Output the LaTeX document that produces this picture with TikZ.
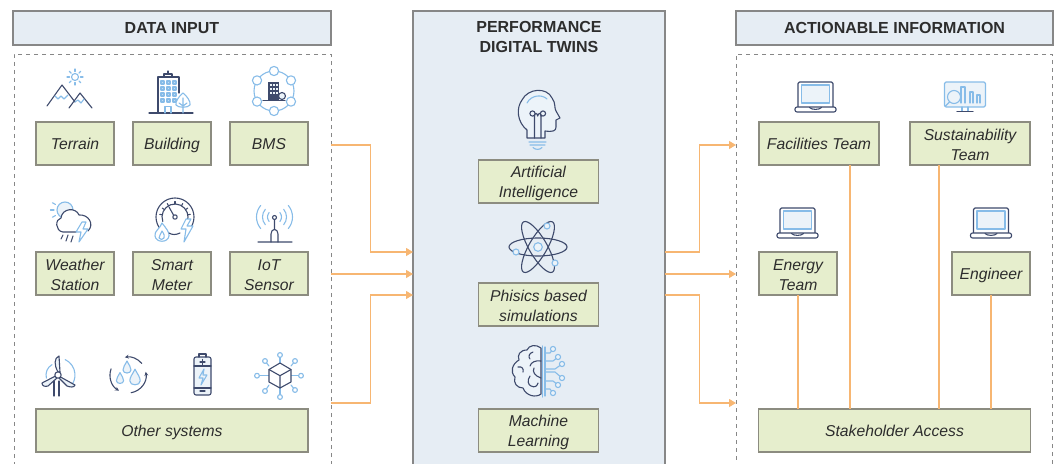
\documentclass[tikz,border=0pt]{standalone}
\usepackage{fontspec}
\setmainfont{Liberation Sans}
\usetikzlibrary{positioning,arrows.meta}
\definecolor{headfill}{RGB}{230,237,244}
\definecolor{boxfill}{RGB}{230,238,205}
\definecolor{boxline}{RGB}{140,140,128}
\definecolor{frameline}{RGB}{135,135,135}
\definecolor{flowline}{RGB}{247,182,114}
\definecolor{navy}{RGB}{62,74,108}
\definecolor{skyb}{RGB}{135,188,232}
\definecolor{skyf}{RGB}{236,243,249}
\definecolor{inktext}{RGB}{45,45,45}
\newcommand{\twolines}[2]{\rule{0pt}{16pt}#1\\#2\rule[-3pt]{0pt}{3pt}}

\tikzset{
  laptop/.pic={
    \draw[ico,rounded corners=1.5pt] (-17.5,0) -- (-17.5,-25) -- (17.5,-25) -- (17.5,0);
    \draw[icl,fill=skyf] (-14,-22) rectangle (14,-4);
    \draw[ico,fill=white,rounded corners=2pt] (-20.5,0) rectangle (20.5,5);
    \draw[ico] (-6,0.5) .. controls (-4,3) and (4,3) .. (6,0.5);
  },
  droplet/.pic={
    \draw[icl,fill=skyf] (0,-6) .. controls (2,-2) and (4,0) .. (4,3)
      .. controls (4,7) and (-4,7) .. (-4,3) .. controls (-4,0) and (-2,-2) .. cycle;
  }
}

\begin{document}
\begin{tikzpicture}[
x=1pt, y=-1pt,
every node/.style={align=center, text=inktext, inner sep=0pt, outer sep=0pt, font=\fontsize{16}{20}\selectfont},
header/.style={rectangle, draw=frameline, fill=headfill, line width=1.1pt, font=\fontsize{16}{20}\selectfont\bfseries},
frame/.style={rectangle, draw=frameline, line width=.9pt, dash pattern=on 4pt off 4pt},
panel/.style={rectangle, draw=frameline, fill=headfill, line width=1.1pt},
leaf/.style={rectangle, draw=boxline, fill=boxfill, line width=1.1pt, minimum height=43,
  font=\fontsize{15.7}{20}\selectfont\itshape},
oneline/.style={text height=15.5pt, text depth=3pt},
small/.style={leaf, minimum width=78},
wide/.style={leaf, minimum width=120},
long/.style={leaf, minimum width=272},
flow/.style={draw=flowline, line width=1.1pt, -{Triangle[length=7pt,width=8pt]}},
link/.style={draw=flowline, line width=1.1pt},
ico/.style={draw=navy, line width=1.1pt, line join=round, line cap=round},
icl/.style={draw=skyb, line width=1.1pt, line join=round, line cap=round}
]
  \useasboundingbox (0,0) rectangle (1057,463);
  \clip (0,0) rectangle (1057,463);

  \node[header, minimum width=318, minimum height=34] (inputhead) at (172,28) {DATA INPUT};
  \node[frame, minimum width=317, minimum height=430] (input) at (172.5,269) {};
  \node[panel, minimum width=252, minimum height=473] (twins) at (539,247.5) {};
  \node[font=\fontsize{16}{20.5}\selectfont\bfseries] (twinshead) at (539,37) {PERFORMANCE\\DIGITAL TWINS};
  \node[header, minimum width=317, minimum height=34] (outputhead) at (894.5,28) {ACTIONABLE INFORMATION};
  \node[frame, minimum width=316, minimum height=430] (output) at (894,269) {};

  \node[small, oneline] (terrain) at (75,143.5) {Terrain};
  \node[small, oneline] (building) at (172,143.5) {Building};
  \node[small, oneline] (bms) at (269,143.5) {BMS};
  \node[small] (weather) at (75,273.5) {\twolines{Weather}{Station}};
  \node[small] (meter) at (172,273.5) {\twolines{Smart}{Meter}};
  \node[small] (iot) at (269,273.5) {\twolines{IoT}{Sensor}};
  \node[long, oneline] (other) at (172,430.5) {Other systems};

  \node[wide] (ai) at (538.5,181.5) {\twolines{Artificial}{Intelligence}};
  \node[wide] (physics) at (538.5,304.5) {\twolines{Phisics based}{simulations}};
  \node[wide] (ml) at (538.5,430.5) {\twolines{Machine}{Learning}};

  \node[wide, oneline] (facilities) at (819,143.5) {Facilities Team};
  \node[wide] (sustain) at (970,143.5) {\twolines{Sustainability}{Team}};
  \node[small] (energy) at (798,273.5) {\twolines{Energy}{Team}};
  \node[small, oneline] (engineer) at (991,273.5) {Engineer};
  \node[long, oneline, minimum width=271.5] (stake) at (894.5,430.5) {Stakeholder Access};

  \coordinate (rowA) at (0,145);
  \coordinate (rowB) at (0,274);
  \coordinate (rowC) at (0,403);
  \coordinate (portA) at (0,252);
  \coordinate (portC) at (0,295);

  \draw[flow] (input.east |- rowA) -- ++(39.5,0) |- (twins.west |- portA);
  \draw[flow] (input.east |- rowB) -- (twins.west |- rowB);
  \draw[flow] (input.east |- rowC) -- ++(39.5,0) |- (twins.west |- portC);
  \draw[flow] (twins.east |- portA) -- ++(34.5,0) |- (output.west |- rowA);
  \draw[flow] (twins.east |- rowB) -- (output.west |- rowB);
  \draw[flow] (twins.east |- portC) -- ++(34.5,0) |- (output.west |- rowC);

  \draw[link] ([xshift=31pt]facilities.south) -- ([xshift=31pt]facilities.south |- stake.north);
  \draw[link] ([xshift=-31pt]sustain.south) -- ([xshift=-31pt]sustain.south |- stake.north);
  \draw[link] (energy.south) -- (energy.south |- stake.north);
  \draw[link] (engineer.south) -- (engineer.south |- stake.north);

  % terrain
  \draw[icl] (75,77) circle (3.5);
  \foreach \a in {0,45,...,315} \draw[icl] (75,77) ++(\a:5.5) -- ++(\a:2.5);
  \draw[ico] (47,106) -- (62,85) -- (75,102) (69,108) -- (80,93) -- (92,108);
  \draw[icl] (55,96) -- (58,99) -- (61,96) -- (64,99) -- (68,95) (75,102) -- (78,100) -- (81,103) -- (84,99);

  % building
  \draw[ico] (149,113) -- (193,113) (158,113) -- (158,77) -- (179,77) -- (179,93);
  \draw[ico] (164,77) -- (164,74) -- (172,74) -- (172,77) (168,74) -- (168,71);
  \foreach \x in {161,167,173} \foreach \y in {81,87,93,99}
    \draw[icl,fill=skyb!50] (\x,\y) rectangle ++(3,3);
  \draw[icl] (165,113) -- (165,106.5) -- (171,106.5) -- (171,113);
  \draw[icl,fill=white] (183,93) .. controls (187,96) and (191,102) .. (190,105) .. controls (188,108) and (178,108) .. (176,105) .. controls (175,102) and (179,96) .. cycle;
  \draw[icl] (183,98) -- (183,113) (179,103) -- (183,106) -- (187,103);

  % bms
  \draw[icl] (274,91) circle (20);
  \foreach \a in {90,32,-32,-90,212,148}
    \filldraw[icl,fill=white] (274,91) ++(\a:20) circle (4.6);
  \fill[navy] (268,82) rectangle (279,100);
  \foreach \x in {270,273,276} \foreach \y in {84,88,92}
    \fill[skyf] (\x,\y) rectangle ++(1.5,2);
  \draw[ico] (263,100.5) -- (285,100.5);
  \draw[ico,fill=skyf] (282,96) circle (3.5);

  % weather
  \draw[icl,fill=skyf] (65,210) circle (8);
  \foreach \a in {60,90,120,150,180,210} \draw[icl] (65,210) ++(\a:11) -- ++(\a:3.5);
  \draw[ico,fill=white] (76,232) -- (63,232) .. controls (55,231) and (55,219) .. (61,218)
    .. controls (62,208) and (76,207) .. (79,215) .. controls (88,214) and (95,224) .. (88,231);
  \draw[icl,fill=white] (82,222) -- (76,232) -- (81,232) -- (79,242) -- (88,229) -- (83,229) -- (86,222) -- cycle;
  \draw[ico] (63,235) -- (61,239) (68,235) -- (66,241) (73,236) -- (71,242);

  % smart meter
  \draw[ico] (175,217) ++(135:19) arc (135:405:19);
  \draw[ico] (175,217) ++(160:13) arc (160:380:13);
  \foreach \a in {190,215,240,270,300,325,350} \draw[ico] (175,217) ++(\a:13) -- ++(\a:2.5);
  \draw[ico] (175,217) circle (2.2) (173.5,215) -- (169,207);
  \draw[icl,fill=white] (162,223) .. controls (166,228) and (170,233) .. (169,236) .. controls (168,243) and (156,243) .. (155,236) .. controls (154,231) and (160,229) .. cycle;
  \draw[icl] (162,231) .. controls (164,234) and (165,236) .. (164,238) .. controls (163,240) and (160,240) .. (159,238) .. controls (159,236) and (161,234) .. cycle;
  \draw[icl,fill=white] (186,219) -- (181,229) -- (186,229) -- (184,242) -- (193,226) -- (187,226) -- (191,219) -- cycle;
  \draw[ico] (169,233) .. controls (172,235) and (176,235) .. (180,233);

  % iot sensor
  \foreach \r in {7,12,18} {
    \draw[icl] (274.5,217) ++(-40:\r) arc (-40:40:\r);
    \draw[icl] (274.5,217) ++(140:\r) arc (140:220:\r);
  }
  \draw[ico] (271,242) -- (271,234) .. controls (271,228) and (278,228) .. (278,234) -- (278,242);
  \draw[ico] (258,242) -- (292,242) (274.5,229.5) -- (274.5,220) (274.5,217.5) circle (2);

  % turbine
  \draw[icl] (58,375) ++(-65:17) arc (-65:40:17) (58,375) ++(-120:12) arc (-120:-195:12);
  \draw[ico,fill=skyf] (58,372) .. controls (54,365) and (54,358) .. (59,356) -- (60,372) -- cycle;
  \draw[ico,fill=skyf] (55.5,376) -- (42,383) .. controls (42,386) and (45,387) .. (48,386) -- (57,378) -- cycle;
  \draw[ico,fill=skyf] (60.5,377) -- (75,385) .. controls (74,388) and (70,387) .. (67,386) -- (59,378) -- cycle;
  \draw[ico,fill=white] (58,375) circle (3.2);
  \draw[ico] (54,381) -- (54,396) (59,381) -- (59,396);

  % water
  \draw[ico,-{Stealth[length=4pt,width=4pt]}] (128,375) ++(200:18) arc (200:120:18);
  \draw[ico,-{Stealth[length=4pt,width=4pt]}] (128,375) ++(80:18) arc (80:-10:18);
  \draw[ico,-{Stealth[length=4pt,width=4pt]}] (128,375) ++(-40:18) arc (-40:-100:18);
  \pic at (127,367) {droplet};
  \pic[scale=.9] at (120,378) {droplet};
  \pic[scale=1.3] at (135,377) {droplet};

  % battery
  \draw[ico,fill=skyf,rounded corners=2pt] (194,357) rectangle (211,395);
  \draw[ico] (199,357) -- (199,354) -- (206,354) -- (206,357) (194,366) -- (211,366) (194,388) -- (211,388);
  \draw[ico] (200,362) -- (205,362) (202.5,359.5) -- (202.5,364.5) (200,391) -- (205,391);
  \draw[icl] (204,369) -- (199,378) -- (203,378) -- (201,385) -- (207,375) -- (203,375) -- cycle;

  % cube
  \foreach \x/\y/\u/\v in {280/355/280/363, 295/361/291/366, 301/375.7/291/375.7, 295/390/291/385, 280/397/280/388, 265/391/269/385, 257/375.7/269/375.7, 265/361/269/366} {
    \draw[icl] (\x,\y) -- (\u,\v);
    \filldraw[icl,fill=white] (\x,\y) circle (2.4);
  }
  \draw[ico,fill=white] (280,363) -- (291,369.5) -- (291,382) -- (280,388) -- (269,382) -- (269,369.5) -- cycle;
  \draw[ico] (269,369.5) -- (280,375.7) -- (291,369.5) (280,375.7) -- (280,388);

  % head
  \draw[ico,fill=skyf] (527,138) -- (527,130) .. controls (517,122) and (516,108) .. (522,100)
    .. controls (528,88) and (547,87) .. (552,98) .. controls (556,103) and (554,108) .. (556,111)
    -- (560,118) -- (556,120) -- (556,127) .. controls (556,131) and (553,132) .. (545,131) -- (545,138) -- cycle;
  \draw[icl] (527,103) .. controls (531,95) and (542,94) .. (547,99);
  \draw[ico] (532.5,113.5) circle (2.6) (543,113.5) circle (2.6) (534.5,138) -- (534.5,116) (541,138) -- (541,116);
  \draw[ico] (534.5,116) .. controls (535,112) and (537,113) .. (537.7,116) (541,116) .. controls (540.5,112) and (538.5,113) .. (537.7,116);
  \draw[icl] (529,142) -- (546,142) (530,145) -- (545,145) (533,147.5) .. controls (535,150) and (540,150) .. (542,147.5);

  % atom
  \draw[ico] (538,247) ellipse [x radius=29, y radius=9];
  \draw[ico] (538,247) ellipse [x radius=29, y radius=9, rotate=60];
  \draw[ico] (538,247) ellipse [x radius=29, y radius=9, rotate=-60];
  \draw[icl,fill=skyf] (538,247) circle (4.3);
  \filldraw[icl,fill=skyf] (547,226) circle (3) (516,252) circle (3) (555,263) circle (3);

  % brain
  \draw[ico,fill=skyf] (541,348) .. controls (536,344) and (529,345) .. (527,350) .. controls (520,350) and (517,355) .. (519,360)
    .. controls (512,364) and (510,372) .. (515,377) .. controls (513,383) and (517,388) .. (523,388)
    .. controls (526,396) and (536,398) .. (541,394) -- cycle;
  \draw[ico] (533,352) .. controls (529,353) and (528,357) .. (530,359) (541,361) .. controls (536,360) and (531,362) .. (530,366) (518,367) .. controls (522,366) and (524,369) .. (523,372);
  \draw[ico] (541,378) .. controls (535,376) and (532,372) .. (534,368) (530,376) .. controls (527,380) and (528,385) .. (531,386) .. controls (535,388) and (537,386) .. (538,383);
  \draw[icl] (542.5,346) -- (542.5,397) (545,347) -- (545,396);
  \foreach \x/\y/\u/\v/\e in {553/349/550/353/353, 558/357/553/361/361, 562/364/555/369/369, 562/378/555/372/372, 558/385/553/381/381, 553/393/550/389/389} {
    \draw[icl] (546,\e) -- (\u,\v) -- (\x,\y);
    \filldraw[icl,fill=skyf] (\x,\y) circle (2.6);
  }

  % screens
  \pic at (815.5,107) {laptop};
  \pic at (797.5,233) {laptop};
  \pic at (991,233) {laptop};
  \draw[icl,fill=skyf,rounded corners=1.5pt] (944.5,82) rectangle (985.5,107);
  \draw[ico,draw=skyb] (962,107) -- (962,111) (968,107) -- (968,111);
  \draw[ico] (957,111.5) -- (973,111.5);
  \draw[icl] (954,97) circle (6.5) (949.5,102) -- (945,106.5);
  \draw[icl] (961,103) -- (961,87) -- (965,87) -- (965,103) (970,103) -- (970,92) -- (973,92) -- (973,103) (977,103) -- (977,95) -- (980,95) -- (980,103);
\end{tikzpicture}
\end{document}
